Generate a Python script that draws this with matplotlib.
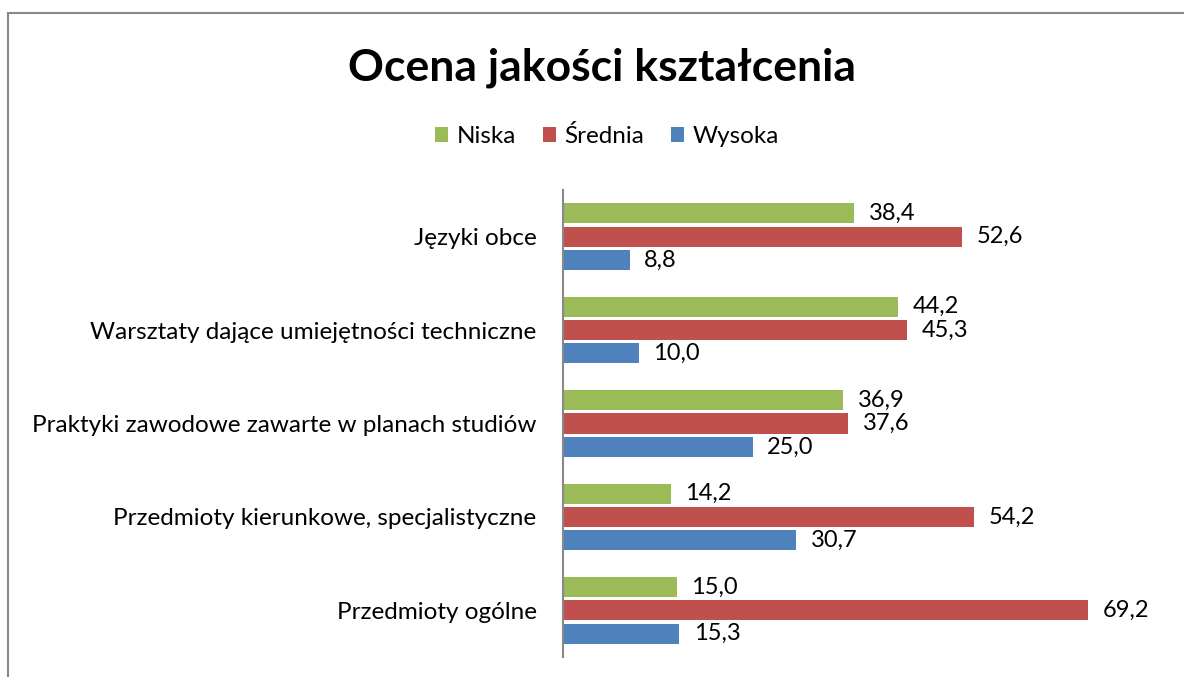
import matplotlib.pyplot as plt
import numpy as np
from matplotlib.patches import Rectangle

# chart data
categories = ["Języki obce",
              "Warsztaty dające umiejętności techniczne",
              "Praktyki zawodowe zawarte w planach studiów",
              "Przedmioty kierunkowe, specjalistyczne",
              "Przedmioty ogólne"]
niska = [38.4, 44.2, 36.9, 14.2, 15.0]
srednia = [52.6, 45.3, 37.6, 54.2, 69.2]
wysoka = [8.8, 10.0, 25.0, 30.7, 15.3]
series_names = ["Niska", "Średnia", "Wysoka"]
colors = ["#9BBB59", "#C0504D", "#4F81BD"]

plt.rcParams['font.family'] = ['Lato', 'DejaVu Sans']

fig = plt.figure(figsize=(11.84, 6.77), dpi=100)
ax = fig.add_axes([563 / 1184, 20 / 677, 607 / 1184, 467 / 677])

# outer border of the chart area (runs off the right and bottom edge)
fig.patches.append(Rectangle((8 / 1184, -0.1), 1.2, (677 - 13) / 677 + 0.1,
                             transform=fig.transFigure, fill=False,
                             edgecolor="#888888", linewidth=1.5))

y = np.arange(len(categories))
offsets = [-0.25, 0.0, 0.25]
for vals, name, col, off in zip([niska, srednia, wysoka], series_names, colors, offsets):
    bars = ax.barh(y + off, vals, height=0.215, color=col, label=name)
    for b, v in zip(bars, vals):
        ax.annotate(f"{v:.1f}".replace(".", ","),
                    (b.get_width(), b.get_y() + b.get_height() / 2),
                    xytext=(10.5, 0), textcoords="offset points",
                    ha="left", va="center", fontsize=17)

ax.set_xlim(0, 80)
ax.set_ylim(len(categories) - 0.5, -0.5)
ax.set_yticks(y)
ax.set_yticklabels(categories, fontsize=17.5)
ax.tick_params(axis="y", length=0, pad=19)
ax.set_xticks([])
for s in ["top", "right", "bottom"]:
    ax.spines[s].set_visible(False)
ax.spines["left"].set_color("#888888")
ax.spines["left"].set_linewidth(1.5)

fig.text(602 / 1184, 1 - 68 / 677, "Ocena jakości kształcenia", ha="center",
         va="center", fontsize=32, fontweight="bold")
fig.legend(loc="center", bbox_to_anchor=(607 / 1184, 1 - 136 / 677), ncol=3,
           frameon=False, fontsize=17.5, handlelength=0.55, handleheight=0.55,
           handletextpad=0.35, columnspacing=1.1)

fig.savefig("out.png", dpi=100)
